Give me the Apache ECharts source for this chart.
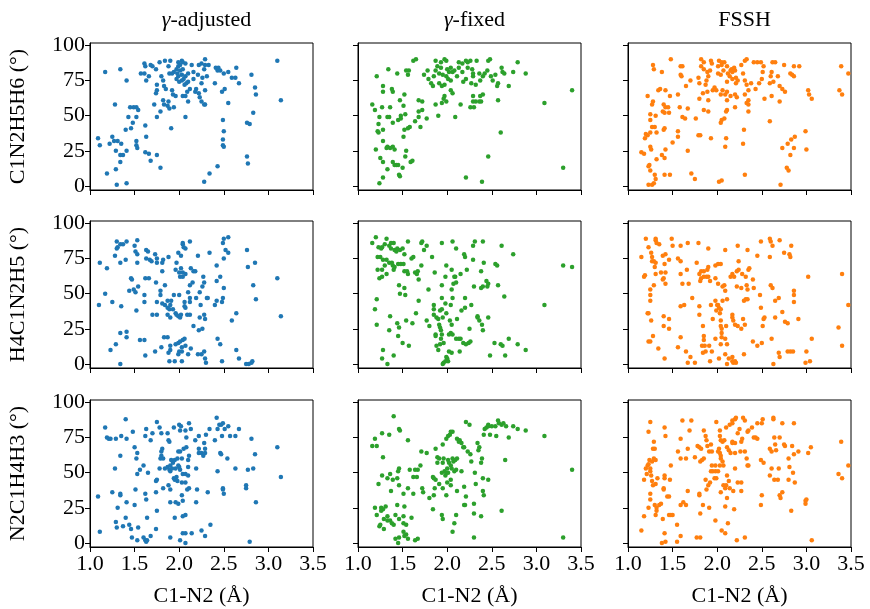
<!DOCTYPE html>
<html>
<head>
<meta charset="utf-8">
<script src="https://cdn.jsdelivr.net/npm/echarts@6/dist/echarts.min.js"></script>
<style>
html, body { margin: 0; background: #fff; }
#chart { width: 870px; height: 609px; }
</style>
</head>
<body>
<div id="chart"></div>
<script>
var methods = ['{g|γ}-adjusted', '{g|γ}-fixed', 'FSSH']
var angleNames = ['C1N2H5H6 (°)', 'H4C1N2H5 (°)', 'N2C1H4H3 (°)']
var xName = 'C1-N2 (Å)'
var colors = ['#1f77b4', '#2ca02c', '#ff7f0e']
var xTicks = [1.0, 1.5, 2.0, 2.5, 3.0, 3.5]
var yTicks = [0, 25, 50, 75, 100]

// C1N2H5H6
var adj1 = [[1.17,81],[1.34,83],[1.41,75],[1.61,87],[1.62,85],[1.68,86],[1.70,85],[1.57,80],[1.61,80],[1.63,75],[1.66,78],[1.74,83],[1.78,88],[1.84,89],[1.90,89],[1.80,78],[1.82,75],[1.75,72],[1.75,68],[1.74,66],[1.83,71],[1.85,69],[1.72,58],[1.75,49],[1.82,61],[1.83,58],[1.79,53],[1.88,60],[1.87,57],[1.89,55],[1.94,56],[1.92,68],[1.93,65],[1.96,64],[1.88,85],[1.89,80],[1.92,80],[1.94,81],[1.97,83],[1.99,85],[2.01,86],[2.03,89],[2.04,88],[2.07,87],[2.01,82],[2.03,79],[1.99,78],[1.97,76],[2.00,74],[2.03,75],[2.05,76],[2.07,78],[2.10,80],[2.08,73],[2.06,72],[2.10,74],[2.12,69],[2.09,67],[1.98,80],[2.04,83],[1.99,88],[2.07,49],[1.91,41],[2.04,64],[2.07,64],[2.10,60],[2.14,86],[2.16,81],[2.16,76],[2.19,69],[2.18,67],[2.22,66],[2.23,63],[2.25,60],[2.28,58],[2.29,58],[2.22,86],[2.25,87],[2.29,90],[2.29,86],[2.33,86],[2.28,83],[2.31,78],[2.26,77],[2.25,73],[2.29,68],[2.21,79],[2.41,84],[2.43,82],[2.44,84],[2.46,82],[2.50,80],[2.40,73],[2.48,67],[2.51,69],[2.55,59],[2.55,81],[2.59,77],[2.64,84],[2.63,77],[2.67,73],[2.81,79],[2.85,70],[2.86,65],[2.83,52],[2.76,45],[2.79,44],[3.10,89],[3.14,61],[2.49,47],[2.50,39],[2.49,33],[2.49,29],[2.50,28],[2.76,21],[2.77,16],[2.43,14],[2.34,9],[2.28,3],[1.28,58],[1.45,56],[1.49,56],[1.52,56],[1.54,54],[1.43,49],[1.48,45],[1.46,41],[1.40,40],[1.52,49],[1.09,34],[1.11,29],[1.25,35],[1.22,30],[1.27,32],[1.31,32],[1.35,30],[1.29,25],[1.34,22],[1.37,22],[1.41,25],[1.52,32],[1.52,29],[1.53,27],[1.62,43],[1.63,35],[1.62,24],[1.66,23],[1.68,18],[1.75,22],[1.79,13],[1.34,17],[1.19,9],[1.29,12],[1.30,1],[1.41,2]]
var fix1 = [[1.21,78],[1.34,83],[1.28,71],[1.28,67],[1.16,58],[1.19,54],[1.27,56],[1.36,56],[1.39,67],[1.38,69],[1.44,80],[1.54,82],[1.57,82],[1.56,79],[1.62,89],[1.65,90],[1.52,65],[1.68,61],[1.72,60],[1.47,61],[1.51,57],[1.48,50],[1.53,51],[1.68,53],[1.72,54],[1.77,48],[1.70,42],[1.64,46],[1.68,49],[1.56,41],[1.58,42],[1.52,40],[1.45,47],[1.48,48],[1.39,45],[1.33,49],[1.35,49],[1.24,49],[1.23,44],[1.28,40],[1.22,39],[1.23,38],[1.28,32],[1.51,35],[1.20,26],[1.32,27],[1.33,28],[1.36,27],[1.39,28],[1.41,26],[1.54,25],[1.53,21],[1.25,20],[1.28,17],[1.39,17],[1.41,15],[1.43,15],[1.45,15],[1.33,12],[1.50,13],[1.59,17],[1.61,18],[1.46,8],[1.47,7],[1.28,6],[1.24,2],[1.74,79],[1.78,82],[1.79,76],[1.82,73],[1.84,71],[1.85,78],[1.87,89],[1.93,88],[1.97,90],[1.99,89],[1.89,85],[1.93,84],[1.87,82],[1.91,80],[1.95,79],[2.00,83],[2.02,81],[2.04,84],[2.06,81],[2.08,82],[1.99,78],[2.01,76],[2.04,75],[1.91,73],[1.94,71],[1.97,72],[2.04,68],[2.06,66],[1.97,64],[1.96,62],[1.99,60],[1.94,59],[1.90,50],[2.09,49],[1.87,58],[2.13,88],[2.17,87],[2.21,89],[2.23,88],[2.26,89],[2.33,89],[2.46,89],[2.48,90],[2.13,84],[2.17,81],[2.23,84],[2.28,83],[2.29,80],[2.11,78],[2.18,74],[2.21,76],[2.29,78],[2.27,73],[2.32,72],[2.36,80],[2.40,78],[2.42,80],[2.45,82],[2.37,75],[2.49,78],[2.51,75],[2.54,79],[2.57,73],[2.56,71],[2.61,84],[2.62,81],[2.64,80],[2.74,81],[2.79,88],[2.88,80],[2.69,71],[2.57,61],[2.15,58],[2.26,56],[2.30,56],[2.29,60],[2.32,60],[2.36,60],[2.38,60],[2.29,64],[2.37,64],[2.40,65],[2.60,38],[2.46,21],[2.21,6],[2.39,3],[3.09,59],[3.40,68],[3.30,13]]
var fssh1 = [[1.28,86],[1.29,83],[1.38,81],[1.48,90],[1.59,85],[1.61,85],[1.59,79],[1.60,78],[1.70,75],[1.65,71],[1.82,90],[1.85,88],[1.93,89],[1.94,87],[1.82,85],[1.85,83],[1.89,81],[1.92,82],[1.79,77],[1.80,73],[1.88,75],[1.87,72],[1.90,78],[1.84,66],[1.89,67],[1.80,62],[1.90,61],[1.95,68],[1.97,70],[1.99,68],[2.02,89],[2.05,88],[2.08,88],[2.01,85],[2.05,86],[2.11,85],[2.01,80],[2.04,79],[2.07,82],[2.12,80],[2.15,82],[2.16,83],[2.17,81],[2.19,84],[2.20,82],[2.14,78],[2.11,74],[2.17,76],[2.21,77],[2.23,75],[2.21,73],[2.27,86],[2.31,89],[2.33,90],[2.41,88],[2.45,88],[2.49,88],[2.52,85],[2.29,80],[2.31,75],[2.38,73],[2.33,72],[2.35,68],[2.31,65],[2.04,65],[2.06,68],[2.09,65],[2.11,61],[2.11,67],[2.15,64],[2.20,65],[2.22,63],[2.43,69],[2.47,73],[2.50,76],[2.51,81],[2.62,88],[2.65,88],[2.75,86],[2.86,85],[2.92,85],[2.61,81],[2.60,78],[2.59,73],[2.63,74],[2.68,78],[2.70,71],[2.73,69],[2.76,67],[2.82,80],[2.84,79],[2.86,78],[2.53,62],[2.61,64],[2.70,60],[3.02,68],[3.03,65],[3.06,62],[3.37,68],[3.40,65],[3.39,85],[3.47,80],[2.20,56],[2.11,54],[2.10,53],[2.05,47],[2.04,45],[2.08,48],[2.35,61],[2.33,59],[2.35,58],[2.35,53],[2.59,46],[2.30,40],[2.10,34],[2.09,28],[2.29,30],[2.31,8],[2.02,3],[2.05,4],[2.71,1],[2.87,35],[2.83,33],[2.73,27],[2.79,30],[2.86,27],[2.82,22],[2.78,13],[2.80,11],[2.99,39],[3.00,26],[1.22,64],[1.28,60],[1.27,58],[1.34,68],[1.36,69],[1.42,68],[1.47,64],[1.40,58],[1.42,56],[1.45,56],[1.39,53],[1.41,52],[1.46,52],[1.58,56],[1.67,55],[1.61,49],[1.64,48],[1.76,48],[1.56,65],[1.25,51],[1.25,47],[1.31,50],[1.27,42],[1.30,42],[1.32,38],[1.25,38],[1.20,37],[1.19,34],[1.22,36],[1.40,40],[1.41,41],[1.56,39],[1.56,35],[1.50,31],[1.79,36],[1.81,36],[1.85,54],[1.90,53],[1.93,34],[1.67,25],[1.15,24],[1.18,23],[1.25,28],[1.26,26],[1.32,19],[1.38,22],[1.41,20],[1.42,26],[1.24,15],[1.23,14],[1.25,11],[1.30,8],[1.31,5],[1.23,1],[1.27,1],[1.29,2],[1.41,8],[1.47,8],[1.71,9],[1.75,5]]

// H4C1N2H5
var adj2 = [[1.11,72],[1.19,68],[1.17,50],[1.10,42],[1.25,44],[1.28,77],[1.30,82],[1.30,87],[1.31,83],[1.34,85],[1.37,85],[1.41,87],[1.40,74],[1.34,72],[1.35,41],[1.46,61],[1.47,60],[1.44,52],[1.49,53],[1.51,51],[1.54,55],[1.50,84],[1.53,88],[1.51,80],[1.53,78],[1.53,72],[1.63,81],[1.65,80],[1.63,75],[1.67,74],[1.69,73],[1.73,78],[1.75,75],[1.75,72],[1.81,72],[1.82,74],[1.88,76],[1.81,66],[1.62,61],[1.66,61],[1.61,49],[1.61,44],[1.52,38],[1.74,58],[1.79,52],[1.79,49],[1.84,56],[1.75,44],[1.81,43],[1.70,35],[1.75,35],[1.84,42],[1.87,40],[1.87,45],[1.91,45],[1.90,42],[1.89,39],[1.87,35],[1.90,33],[1.94,49],[2.00,49],[1.93,39],[1.96,36],[1.97,35],[1.99,34],[2.01,33],[2.02,35],[1.96,67],[2.00,65],[2.01,62],[2.04,62],[2.04,65],[2.07,64],[2.02,68],[1.99,79],[2.02,77],[2.04,85],[2.05,83],[2.07,82],[2.04,86],[2.12,87],[1.97,72],[2.06,41],[2.07,40],[2.06,44],[2.09,35],[2.12,35],[2.10,51],[2.12,47],[2.12,44],[2.12,56],[2.15,58],[2.13,68],[2.16,66],[2.18,66],[2.21,77],[2.19,47],[2.24,42],[2.23,51],[2.26,55],[2.27,62],[2.28,58],[2.31,47],[2.32,47],[2.28,35],[2.23,33],[2.29,32],[2.34,79],[2.40,42],[2.42,45],[2.48,44],[2.49,47],[2.50,54],[2.42,59],[2.46,62],[2.42,70],[2.50,75],[2.50,89],[2.52,81],[2.55,79],[2.55,90],[2.49,86],[2.59,31],[2.64,36],[2.76,81],[2.77,69],[2.85,72],[2.83,56],[2.86,46],[3.10,61],[3.14,34],[2.16,27],[2.22,24],[2.26,25],[1.34,22],[1.41,23],[1.41,19],[1.29,14],[1.23,10],[1.56,17],[1.61,17],[1.62,6],[1.73,9],[1.80,12],[1.83,19],[1.87,19],[1.90,10],[1.88,8],[1.90,13],[1.89,2],[1.95,2],[1.96,14],[1.99,15],[2.01,16],[2.04,17],[2.06,18],[2.00,9],[1.99,7],[2.03,12],[2.03,9],[2.03,2],[2.07,13],[2.10,7],[2.13,11],[2.21,7],[2.25,7],[2.28,9],[2.29,4],[2.30,1],[2.43,18],[2.46,14],[2.48,2],[2.64,10],[2.67,4],[2.75,0],[2.78,0],[2.81,1],[2.82,2],[1.34,0]]
var fix2 = [[1.16,86],[1.20,90],[1.23,83],[1.26,82],[1.27,83],[1.30,85],[1.32,89],[1.35,84],[1.37,86],[1.40,86],[1.37,82],[1.41,81],[1.43,80],[1.44,82],[1.47,81],[1.50,82],[1.56,87],[1.52,78],[1.22,76],[1.25,76],[1.28,74],[1.32,74],[1.30,70],[1.35,72],[1.38,72],[1.39,70],[1.41,69],[1.40,67],[1.22,67],[1.27,67],[1.24,61],[1.27,62],[1.32,64],[1.45,71],[1.48,71],[1.51,71],[1.52,66],[1.55,66],[1.56,64],[1.60,75],[1.62,76],[1.64,65],[1.67,66],[1.66,64],[1.68,60],[1.71,70],[1.71,86],[1.72,87],[1.74,81],[1.77,84],[1.46,56],[1.52,54],[1.47,50],[1.53,49],[1.21,46],[1.19,39],[1.21,28],[1.36,34],[1.35,24],[1.44,29],[1.46,26],[1.50,15],[1.54,31],[1.57,13],[1.45,20],[1.28,10],[1.27,4],[1.33,0],[1.40,6],[1.65,36],[1.61,29],[1.68,45],[1.79,53],[1.83,76],[1.77,31],[1.80,27],[1.85,42],[1.85,39],[1.85,35],[1.88,33],[1.90,32],[1.92,38],[1.86,65],[1.94,86],[1.99,70],[1.98,62],[1.94,56],[1.94,47],[1.94,39],[1.98,43],[1.99,36],[1.95,33],[1.91,28],[1.87,21],[1.87,20],[1.92,26],[1.93,24],[1.94,21],[1.93,18],[1.92,14],[1.88,13],[1.90,10],[1.96,15],[1.95,0],[1.96,1],[1.98,2],[2.00,4],[2.01,2],[1.99,5],[2.02,21],[2.04,22],[2.06,21],[2.02,9],[2.05,8],[2.05,28],[2.03,31],[2.04,42],[2.06,47],[2.05,53],[2.07,57],[2.09,62],[2.10,58],[2.05,67],[2.08,62],[2.06,87],[2.10,82],[2.10,18],[2.13,18],[2.15,18],[2.18,15],[2.21,14],[2.24,15],[2.26,16],[2.14,9],[2.11,32],[2.16,38],[2.20,47],[2.20,40],[2.25,25],[2.27,42],[2.20,76],[2.19,78],[2.22,67],[2.15,64],[2.29,74],[2.30,55],[2.29,84],[2.31,87],[2.34,34],[2.34,33],[2.36,31],[2.39,28],[2.40,24],[2.46,33],[2.38,66],[2.38,54],[2.40,55],[2.41,72],[2.44,59],[2.45,55],[2.46,57],[2.40,87],[2.48,6],[2.53,15],[2.56,70],[2.54,71],[2.57,56],[2.61,84],[2.60,14],[2.62,13],[2.64,48],[2.65,6],[2.69,18],[2.74,78],[2.79,14],[2.88,10],[3.09,42],[3.30,70],[3.40,69]]
var fssh2 = [[1.15,76],[1.18,62],[1.19,63],[1.20,89],[1.23,83],[1.26,79],[1.27,73],[1.29,73],[1.31,72],[1.30,69],[1.31,64],[1.27,76],[1.31,89],[1.31,88],[1.32,86],[1.35,85],[1.39,77],[1.42,78],[1.46,74],[1.49,89],[1.50,84],[1.41,71],[1.37,65],[1.42,65],[1.39,60],[1.42,57],[1.40,61],[1.25,53],[1.25,49],[1.25,45],[1.29,56],[1.22,36],[1.23,36],[1.26,31],[1.28,20],[1.23,16],[1.25,16],[1.34,11],[1.40,34],[1.46,32],[1.40,27],[1.46,25],[1.41,4],[1.56,12],[1.59,19],[1.65,9],[1.70,5],[1.56,75],[1.59,73],[1.59,64],[1.61,57],[1.66,67],[1.68,57],[1.59,41],[1.63,42],[1.72,47],[1.59,84],[1.67,86],[1.79,86],[1.77,72],[1.80,64],[1.80,41],[1.80,35],[1.67,1],[1.75,1],[1.82,66],[1.85,66],[1.89,67],[1.90,69],[1.82,61],[1.85,62],[1.88,62],[1.90,62],[1.81,59],[1.92,59],[1.98,61],[1.90,82],[1.93,42],[1.95,32],[1.98,45],[1.99,38],[2.00,42],[1.98,70],[2.01,71],[2.04,71],[2.09,81],[2.01,57],[2.06,55],[2.08,56],[2.09,52],[2.01,42],[2.02,40],[2.04,39],[2.03,36],[2.04,31],[2.04,27],[2.05,25],[2.05,22],[2.05,19],[1.84,27],[1.85,20],[1.85,17],[1.83,13],[1.86,13],[1.84,8],[1.87,9],[1.91,13],[1.94,9],[1.92,2],[1.98,18],[2.04,14],[2.02,4],[2.09,18],[2.11,14],[2.09,7],[2.13,4],[2.17,2],[2.17,5],[2.18,1],[2.20,2],[2.21,1],[2.11,0],[2.06,45],[2.11,46],[2.10,27],[2.17,35],[2.17,33],[2.18,31],[2.20,28],[2.23,27],[2.15,62],[2.17,64],[2.19,62],[2.22,66],[2.24,67],[2.22,55],[2.27,54],[2.24,73],[2.23,84],[2.34,81],[2.45,77],[2.28,64],[2.32,62],[2.35,67],[2.36,68],[2.33,56],[2.34,53],[2.32,46],[2.30,45],[2.34,46],[2.29,32],[2.31,28],[2.27,25],[2.30,7],[2.40,60],[2.41,54],[2.48,49],[2.49,40],[2.52,32],[2.53,33],[2.40,16],[2.45,13],[2.50,15],[2.51,27],[2.49,87],[2.59,89],[2.60,87],[2.62,84],[2.59,76],[2.70,88],[2.60,56],[2.62,54],[2.69,47],[2.65,45],[2.65,33],[2.61,18],[2.73,37],[2.76,30],[2.79,29],[2.69,8],[2.70,5],[2.79,9],[2.82,9],[2.85,9],[2.63,0],[2.75,79],[2.81,78],[2.82,76],[2.83,84],[2.86,52],[2.86,49],[2.86,44],[2.91,32],[3.00,9],[2.99,1],[3.04,2],[3.06,18],[3.02,62],[3.36,26],[3.40,13],[3.40,64],[3.47,42]]

// N2C1H4H3
var adj3 = [[1.17,82],[1.19,75],[1.21,74],[1.23,74],[1.29,74],[1.35,76],[1.41,74],[1.40,88],[1.48,79],[1.34,62],[1.28,53],[1.09,33],[1.25,36],[1.34,35],[1.34,34],[1.11,8],[1.31,25],[1.29,15],[1.30,11],[1.37,12],[1.40,18],[1.44,13],[1.46,10],[1.41,29],[1.50,27],[1.51,38],[1.50,68],[1.53,64],[1.52,60],[1.53,49],[1.56,52],[1.47,4],[1.53,2],[1.54,11],[1.60,55],[1.65,50],[1.62,35],[1.62,76],[1.63,81],[1.68,73],[1.70,78],[1.75,86],[1.78,82],[1.80,78],[1.79,60],[1.81,67],[1.80,65],[1.80,62],[1.82,60],[1.78,53],[1.74,44],[1.75,45],[1.74,36],[1.75,23],[1.74,10],[1.63,31],[1.64,18],[1.60,4],[1.62,2],[1.63,1],[1.64,2],[1.68,5],[1.84,53],[1.87,54],[1.89,52],[1.90,55],[1.90,51],[1.92,53],[1.93,57],[1.87,78],[1.88,73],[1.89,72],[1.94,82],[2.00,84],[2.01,80],[2.02,83],[1.91,59],[1.95,59],[1.98,60],[2.03,60],[2.01,65],[1.99,65],[2.05,67],[2.08,68],[1.94,46],[1.95,45],[1.97,47],[1.98,44],[1.99,55],[2.00,54],[2.01,52],[1.96,53],[2.04,49],[2.07,49],[2.10,48],[2.10,54],[2.10,59],[2.11,62],[1.82,39],[1.88,41],[1.90,38],[2.03,43],[2.07,43],[2.09,38],[2.11,39],[2.03,34],[2.04,30],[1.90,29],[1.96,29],[1.99,28],[1.95,18],[2.04,19],[2.07,20],[1.90,4],[2.01,2],[2.07,0],[2.04,7],[2.07,7],[2.14,7],[2.08,75],[2.07,80],[2.11,85],[2.13,81],[2.18,73],[2.22,76],[2.22,67],[2.22,64],[2.19,53],[2.20,38],[2.19,29],[2.25,64],[2.27,62],[2.29,67],[2.29,64],[2.28,71],[2.30,77],[2.34,81],[2.25,9],[2.29,5],[2.35,13],[2.32,36],[2.40,73],[2.42,89],[2.43,81],[2.45,84],[2.47,84],[2.49,85],[2.51,81],[2.55,83],[2.48,76],[2.46,64],[2.47,63],[2.43,51],[2.49,39],[2.49,38],[2.50,35],[2.54,60],[2.57,76],[2.63,76],[2.67,81],[2.63,53],[2.75,41],[2.75,39],[2.77,52],[2.81,74],[2.83,53],[2.85,63],[2.86,29],[2.79,1],[3.10,68],[3.14,47]]
var fix3 = [[1.16,69],[1.21,69],[1.19,74],[1.27,78],[1.35,77],[1.40,90],[1.46,81],[1.47,80],[1.56,73],[1.28,61],[1.23,42],[1.27,48],[1.33,46],[1.36,49],[1.39,45],[1.44,46],[1.46,53],[1.45,51],[1.37,37],[1.46,41],[1.51,35],[1.56,39],[1.58,52],[1.62,47],[1.64,52],[1.66,47],[1.67,52],[1.70,55],[1.71,65],[1.77,64],[1.19,25],[1.21,20],[1.26,25],[1.28,24],[1.31,26],[1.26,23],[1.24,12],[1.29,10],[1.25,13],[1.29,17],[1.33,16],[1.36,16],[1.38,14],[1.40,13],[1.33,19],[1.42,20],[1.44,27],[1.46,17],[1.51,19],[1.52,26],[1.51,14],[1.54,13],[1.60,18],[1.51,8],[1.54,6],[1.52,5],[1.56,3],[1.42,3],[1.46,4],[1.45,0],[1.64,2],[1.67,3],[1.62,35],[1.72,39],[1.73,36],[1.80,32],[1.84,24],[1.85,34],[1.86,39],[1.84,47],[1.85,46],[1.87,45],[1.89,61],[1.89,57],[1.91,60],[1.94,50],[1.91,42],[1.95,39],[1.94,20],[1.95,17],[1.87,67],[1.95,70],[1.96,60],[1.95,57],[1.97,51],[1.99,50],[2.00,53],[1.98,48],[1.99,34],[2.00,43],[2.01,59],[2.02,57],[2.04,55],[2.06,60],[2.07,58],[2.09,59],[2.08,51],[2.05,53],[2.10,52],[2.11,60],[1.99,74],[2.01,76],[2.03,77],[2.04,79],[2.06,79],[2.01,50],[2.04,45],[2.04,41],[2.08,14],[2.06,8],[2.10,20],[2.11,37],[2.11,74],[2.14,73],[2.16,71],[2.18,68],[2.19,68],[2.13,72],[2.16,51],[2.19,40],[2.19,27],[2.21,33],[2.20,27],[2.30,28],[2.30,21],[2.30,4],[2.21,86],[2.25,84],[2.23,65],[2.26,63],[2.27,58],[2.31,50],[2.32,42],[2.34,71],[2.36,68],[2.35,66],[2.38,57],[2.39,60],[2.40,46],[2.40,37],[2.41,34],[2.38,19],[2.41,77],[2.42,81],[2.44,82],[2.46,83],[2.46,84],[2.48,77],[2.55,76],[2.46,45],[2.61,23],[2.65,59],[2.50,83],[2.54,83],[2.57,87],[2.58,85],[2.61,84],[2.63,85],[2.66,83],[2.69,75],[2.74,83],[2.79,81],[2.88,80],[3.09,76],[3.30,4],[3.40,52]]
var fssh3 = [[1.15,9],[1.18,19],[1.18,45],[1.21,49],[1.20,53],[1.22,55],[1.23,56],[1.25,53],[1.25,51],[1.24,59],[1.27,58],[1.29,60],[1.31,59],[1.28,67],[1.30,67],[1.29,72],[1.23,79],[1.25,86],[1.26,48],[1.27,44],[1.28,41],[1.31,42],[1.33,46],[1.25,35],[1.25,31],[1.23,25],[1.30,27],[1.32,25],[1.32,23],[1.31,20],[1.35,27],[1.37,28],[1.39,17],[1.41,7],[1.38,0],[1.42,1],[1.40,39],[1.40,38],[1.44,33],[1.46,33],[1.41,48],[1.41,46],[1.46,20],[1.48,20],[1.50,20],[1.47,45],[1.48,55],[1.41,82],[1.42,76],[1.56,65],[1.59,74],[1.59,60],[1.61,87],[1.65,60],[1.67,67],[1.69,80],[1.71,87],[1.75,61],[1.55,13],[1.59,5],[1.59,27],[1.62,29],[1.65,27],[1.67,37],[1.55,1],[1.77,4],[1.81,4],[1.80,35],[1.81,21],[1.80,34],[1.84,27],[1.78,69],[1.80,68],[1.82,67],[1.81,58],[1.83,59],[1.85,60],[1.85,80],[1.87,76],[1.88,73],[1.89,69],[1.91,65],[1.94,65],[1.93,70],[1.87,45],[1.88,38],[1.90,41],[1.92,43],[1.91,25],[1.98,16],[1.93,51],[1.95,51],[1.98,51],[1.97,46],[1.94,55],[1.98,55],[1.99,86],[2.03,80],[2.03,76],[2.04,73],[2.06,72],[2.08,73],[2.02,67],[2.01,65],[2.03,64],[2.04,62],[2.04,60],[2.06,58],[2.07,55],[2.03,55],[2.01,51],[1.99,46],[2.04,36],[2.09,39],[2.07,41],[2.10,41],[2.11,48],[2.05,9],[2.09,7],[2.12,14],[2.09,26],[2.11,32],[2.10,82],[2.14,84],[2.11,68],[2.13,66],[2.15,64],[2.17,71],[2.17,72],[2.20,71],[2.20,64],[2.17,85],[2.17,87],[2.20,88],[2.21,89],[2.20,53],[2.13,44],[2.14,39],[2.18,37],[2.19,24],[2.22,2],[2.23,78],[2.25,81],[2.27,72],[2.28,74],[2.29,89],[2.31,87],[2.26,65],[2.31,65],[2.33,60],[2.34,55],[2.35,55],[2.23,43],[2.27,43],[2.27,37],[2.31,4],[2.34,79],[2.35,80],[2.39,82],[2.45,85],[2.50,85],[2.51,88],[2.41,75],[2.43,75],[2.45,74],[2.49,59],[2.52,57],[2.50,34],[2.49,27],[2.59,67],[2.61,65],[2.64,75],[2.63,89],[2.63,88],[2.65,70],[2.66,66],[2.70,75],[2.73,85],[2.59,48],[2.61,53],[2.69,53],[2.64,45],[2.68,45],[2.70,34],[2.71,32],[2.73,36],[2.75,70],[2.76,69],[2.80,60],[2.80,45],[2.81,54],[2.83,23],[2.84,69],[2.85,50],[2.86,85],[2.87,43],[2.86,63],[2.91,65],[2.99,30],[3.00,31],[2.99,28],[3.02,64],[3.05,68],[3.06,2],[3.36,49],[3.39,72],[3.40,46],[3.47,55]]

var panels = [
  [adj1, fix1, fssh1],
  [adj2, fix2, fssh2],
  [adj3, fix3, fssh3]
]

var font = 'Liberation Serif'
var gridLeft = [90, 358, 628]
var gridTop = [43, 221, 400]
var gridW = 223
var gridH = 147

var chart = echarts.init(document.getElementById('chart'))
var grids = [], xAxes = [], yAxes = [], series = [], titles = []

for (var r = 0; r < 3; r++) {
  for (var c = 0; c < 3; c++) {
    var i = r * 3 + c
    grids.push({
      left: gridLeft[c], top: gridTop[r], width: gridW, height: gridH,
      show: true, borderColor: '#000', borderWidth: 1, backgroundColor: 'transparent'
    })
    xAxes.push({
      gridIndex: i, type: 'value', min: 1, max: 3.5, interval: 0.5,
      axisLine: { onZero: false, lineStyle: { color: '#000', width: 1 } },
      axisTick: { show: true, length: 5, lineStyle: { color: '#000' } },
      axisLabel: {
        show: r === 2, color: '#000', fontFamily: font, fontSize: 22, margin: 6,
        formatter: function (v) { return v.toFixed(1) }
      },
      splitLine: { show: false },
      name: r === 2 ? xName : '', nameLocation: 'middle', nameGap: 38,
      nameTextStyle: { color: '#000', fontFamily: font, fontSize: 22 }
    })
    yAxes.push({
      gridIndex: i, type: 'value', min: -2.8, max: 101.6,
      axisLine: { onZero: false, lineStyle: { color: '#000', width: 1 } },
      axisTick: { show: true, length: 5, customValues: yTicks, lineStyle: { color: '#000' } },
      axisLabel: {
        show: c === 0, customValues: yTicks, color: '#000', fontFamily: font, fontSize: 22, margin: 5
      },
      splitLine: { show: false },
      name: c === 0 ? angleNames[r] : '', nameLocation: 'middle', nameGap: 61, nameRotate: 90,
      nameTextStyle: { color: '#000', fontFamily: font, fontSize: 22 }
    })
    series.push({
      type: 'scatter', xAxisIndex: i, yAxisIndex: i,
      data: panels[r][c], symbolSize: 4.5,
      itemStyle: { color: colors[c], opacity: 1 },
      silent: true, animation: false
    })
  }
}

for (var c2 = 0; c2 < 3; c2++) {
  titles.push({
    text: methods[c2],
    left: gridLeft[c2] + gridW / 2, top: 4, textAlign: 'center',
    textStyle: {
      color: '#000', fontFamily: font, fontSize: 22, fontWeight: 'normal',
      rich: { g: { fontStyle: 'italic', fontFamily: font, fontSize: 22, color: '#000' } }
    }
  })
}

chart.setOption({
  backgroundColor: '#fff',
  animation: false,
  title: titles,
  grid: grids,
  xAxis: xAxes,
  yAxis: yAxes,
  series: series
})
</script>
</body>
</html>
